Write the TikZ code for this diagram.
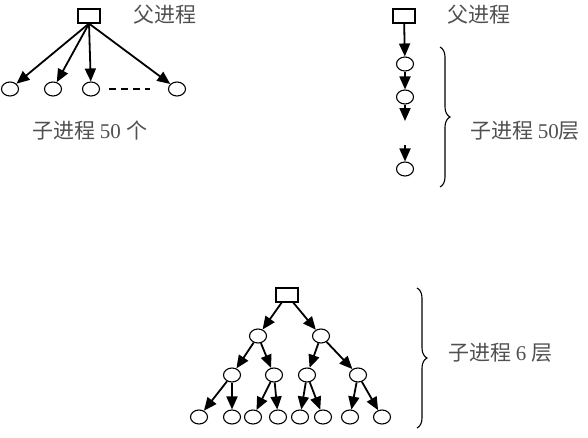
\documentclass[tikz,border=0pt]{standalone}
\usepackage{fontspec}
\setmainfont{Liberation Serif}
\newfontfamily\cjk{Noto Sans CJK SC}
\usepackage{tikz}
\usetikzlibrary{arrows.meta, shapes.geometric, positioning, decorations.pathreplacing}
\definecolor{labelgray}{RGB}{80, 80, 80}
\tikzset{
	proc/.style={draw, line width=1.1pt, rectangle, minimum width=22pt, minimum height=14pt, inner sep=0pt},
	child/.style={draw, line width=1.1pt, ellipse, minimum width=17pt, minimum height=14pt, inner sep=0pt},
	link/.style={line width=1.8pt, -{Triangle[length=13pt,width=11pt]}},
	lbl/.style={anchor=west, text=labelgray, font=\fontsize{21pt}{24pt}\selectfont, inner sep=0pt},
	bracket/.style={decorate, decoration={brace, amplitude=10pt}, line width=1.1pt}
}

\begin{document}
\begin{tikzpicture}[x=1pt, y=-1pt]
						\useasboundingbox (0,0) rectangle (588,437);
						% one parent, fifty children
						\node[proc] (pa) at (89,16) {};
						\node[child] (a1) at (10,89) {};
						\node[child] (a2) at (53,89) {};
						\node[child] (a3) at (91,89) {};
						\node[child] (a4) at (177,89) {};
						\foreach \c in {a1,a2,a3,a4}
							\draw[link] (pa.south) -- (\c);
						\draw[line width=1.2pt, dash pattern=on 7pt off 5pt, shorten <=9pt, shorten >=18pt] (a3) -- (a4);
						\node[lbl] at (133,15) {\cjk 父进程};
						\node[lbl] at (32,131) {\cjk 子进程\ \rmfamily 50\ \cjk 个};
						% a chain of fifty levels
						\node[proc] (pb) at (404,16) {};
						\node[child] (b1) at (405,64) {};
						\node[child] (b2) at (405,97) {};
						\coordinate (b2e) at (405,121);
						\coordinate (b3s) at (405,145);
						\node[child] (b3) at (405,169) {};
						\draw[link] (pb) -- (b1);
						\draw[link] (b1) -- (b2);
						\draw[link] (b2) -- (b2e);
						\draw[link] (b3s) -- (b3);
						\draw[bracket] (440,47) -- (440,187);
						\node[lbl] at (447,15) {\cjk 父进程};
						\node[lbl] at (470,131) {\cjk 子进程\ \rmfamily 50\cjk 层};
						% a binary tree of six levels
						\node[proc] (pc) at (287,295) {};
						\node[child] (c1) at (258,336) {};
						\node[child] (c2) at (321,336) {};
						\node[child] (d1) at (232,375) {};
						\node[child] (d2) at (274,375) {};
						\node[child] (d3) at (307,375) {};
						\node[child] (d4) at (358,375) {};
						\node[child] (e1) at (199,417) {};
						\node[child] (e2) at (232,417) {};
						\node[child] (e3) at (253,417) {};
						\node[child] (e4) at (278,417) {};
						\node[child] (e5) at (300,417) {};
						\node[child] (e6) at (323,417) {};
						\node[child] (e7) at (350,417) {};
						\node[child] (e8) at (382,417) {};
						\foreach \p/\c in {pc/c1, pc/c2, c1/d1, c1/d2, c2/d3, c2/d4,
							d1/e1, d1/e2, d2/e3, d2/e4, d3/e5, d3/e6, d4/e7, d4/e8}
							\draw[link] (\p) -- (\c);
						\draw[bracket] (417,288) -- (417,428);
						\node[lbl] at (448,353) {\cjk 子进程\ \rmfamily 6\ \cjk 层};
					\end{tikzpicture}
\end{document}
